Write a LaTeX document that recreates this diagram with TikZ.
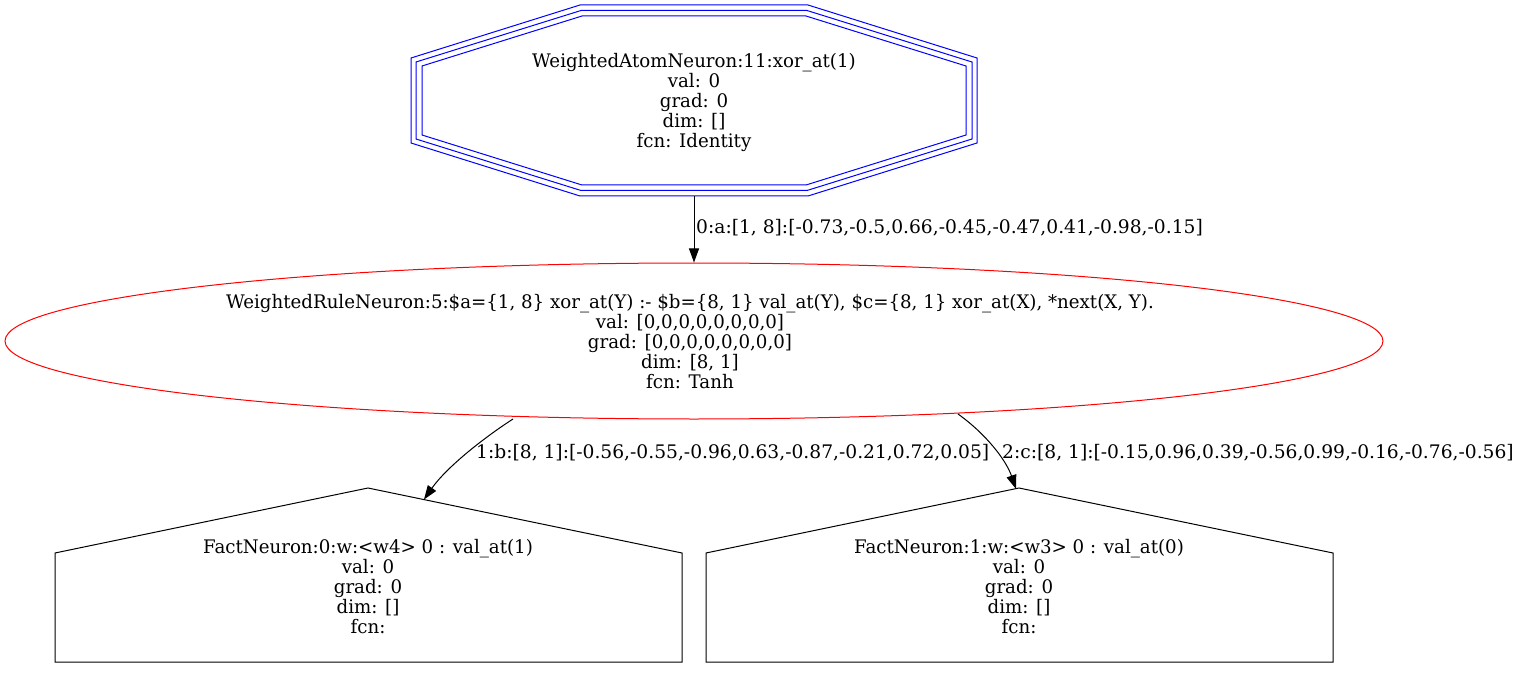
\documentclass[tikz,border=0pt]{standalone}
\usepackage{fontspec}
\usetikzlibrary{arrows.meta,shapes.geometric}
\newfontfamily\nodefont[FakeStretch=0.975]{DejaVu Serif}
\newfontfamily\edgefont{DejaVu Serif}
\begin{document}
\begin{tikzpicture}[x=1pt,y=-1pt,
  ntext/.style={align=center,inner sep=0pt,font=\nodefont\fontsize{18.67}{20}\selectfont},
  elabel/.style={inner sep=0pt,anchor=west,font=\edgefont\fontsize{18.67}{20}\selectfont},
  conn/.style={black,line width=1pt,-{Triangle[length=14pt,width=10pt]}},
  octline/.style={blue,line width=1pt},
  houseline/.style={black,line width=1pt}]
\path[use as bounding box] (0,0) rectangle (1521,687);
% octagon (triple)
\draw[octline] (580,5) -- (808,5) -- (977,58) -- (977,143) -- (808,196) -- (580,196) -- (411,143) -- (411,58) -- cycle;
\draw[octline] (581,10.5) -- (807,10.5) -- (972,62) -- (972,139) -- (807,190.5) -- (581,190.5) -- (416,139) -- (416,62) -- cycle;
\draw[octline] (582,16) -- (806,16) -- (966,66) -- (966,135) -- (806,185) -- (582,185) -- (422,135) -- (422,66) -- cycle;
\node[ntext,minimum width=566pt,minimum height=191pt] (atom) at (694,100.5) {};
\node[ntext] (atomtext) at (694,102) {WeightedAtomNeuron:11:xor\_at(1)\\val: 0\\grad: 0\\dim: []\\fcn: Identity};
% ellipse
\node[ntext,ellipse,draw=red,line width=1pt,minimum width=1378pt,minimum height=156pt] (rule) at (694,341) {};
\node[ntext] (ruletext) at (690,342) {WeightedRuleNeuron:5:\$a=\{1, 8\} xor\_at(Y) :- \$b=\{8, 1\} val\_at(Y), \$c=\{8, 1\} xor\_at(X), *next(X, Y).\\val: [0,0,0,0,0,0,0,0]\\grad: [0,0,0,0,0,0,0,0]\\dim: [8, 1]\\fcn: Tanh};
% houses
\draw[houseline] (55,662) -- (55,553) -- (368,488) -- (682,553) -- (682,662) -- cycle;
\draw[houseline] (706,662) -- (706,553) -- (1019,488) -- (1333,553) -- (1333,662) -- cycle;
\node[ntext] (fact0) at (368,587) {FactNeuron:0:w:<w4> 0 : val\_at(1)\\val: 0\\grad: 0\\dim: []\\fcn:};
\node[ntext] (fact1) at (1019,587) {FactNeuron:1:w:<w3> 0 : val\_at(0)\\val: 0\\grad: 0\\dim: []\\fcn:};
\coordinate (f0in) at (424,499.5);
\coordinate (f1in) at (1016,489);
\coordinate (r0out) at (513,419);
\coordinate (r1out) at (958,414);
% connectors
\draw[conn] (atom.south) -- (rule.north);
\draw[conn] (r0out) .. controls (482,439) and (446,468) .. (f0in);
\draw[conn] (r1out) .. controls (986,434) and (1006,460) .. (f1in);
% edge labels
\node[elabel] (l0) at (696,228) {0:a:[1, 8]:[-0.73,-0.5,0.66,-0.45,-0.47,0.41,-0.98,-0.15]};
\node[elabel] (l1) at (476,453) {1:b:[8, 1]:[-0.56,-0.55,-0.96,0.63,-0.87,-0.21,0.72,0.05]};
\node[elabel] (l2) at (1002,453) {2:c:[8, 1]:[-0.15,0.96,0.39,-0.56,0.99,-0.16,-0.76,-0.56]};
\end{tikzpicture}
\end{document}
